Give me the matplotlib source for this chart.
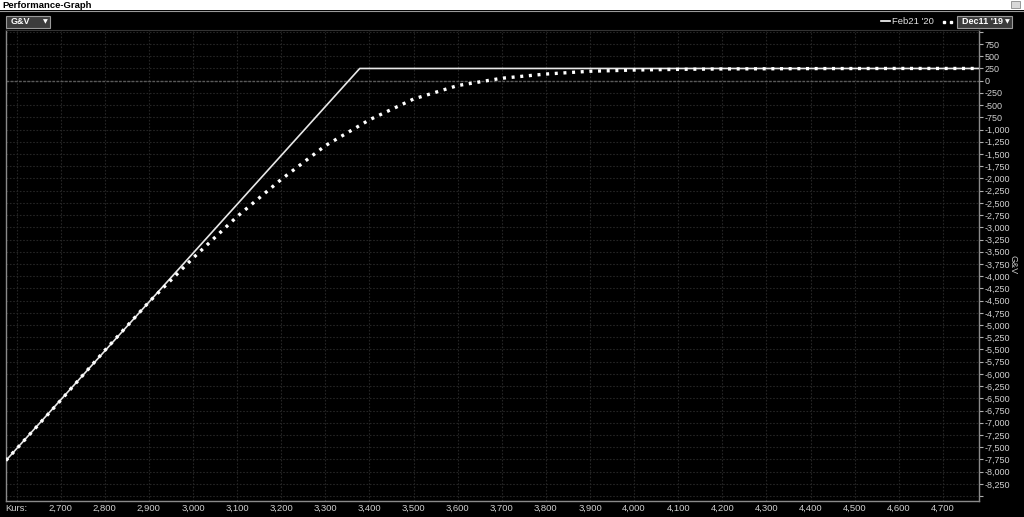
#! /usr/bin/env python3

'''
Performance graph: P&L of the position at expiry (Feb21 '20) and today (Dec11 '19).
'''

import matplotlib
matplotlib.use('Agg')
import matplotlib.pyplot as plt
from matplotlib.patches import Rectangle
from matplotlib.lines import Line2D

plt.rcParams['font.family'] = ['Liberation Sans', 'DejaVu Sans']

# expiry profile (Feb21 '20)
expiry_kurs = [2576, 3378, 4782]
expiry_gv = [-7770, 250, 250]

# current profile (Dec11 '19)
today_kurs = [2576, 2700, 2800, 2900, 3000, 3100, 3200, 3300, 3400, 3500,
              3600, 3700, 3800, 3900, 4000, 4100, 4200, 4400, 4600, 4782]
today_gv = [-7770, -6540, -5520, -4530, -3630, -2780, -2020, -1330, -800, -375,
            -100, 50, 136, 193, 218, 232, 240, 247, 250, 250]

x_ticks = list(range(2600, 4800, 100))
x_labels = ['Kurs:'] + [f'{v:,}' for v in x_ticks[1:]]
y_ticks = list(range(-8500, 1001, 250))
y_labels = [f'{v:,}' if -8250 <= v <= 750 else '' for v in y_ticks]

W, H = 1024, 517
fig = plt.figure(figsize=(W / 100, H / 100), dpi=100, facecolor='black')

ax = fig.add_axes([6 / W, 16 / H, 973 / W, 471 / H])
ax.set_facecolor('black')

ax.plot(expiry_kurs, expiry_gv, color='#e8e8e8', lw=1.2, zorder=3)
ax.plot(today_kurs, today_gv, color='white', lw=2.4,
        linestyle=(0, (0.9, 1.7)), dash_capstyle='butt', zorder=4)
ax.axhline(0, color='#5a5a5a', lw=1.0, linestyle=(0, (2, 1)), zorder=2)

ax.set_xlim(2576, 4782)
ax.set_ylim(-8600, 1037)
ax.set_xticks(x_ticks)
ax.set_xticklabels(x_labels)
ax.set_yticks(y_ticks)
ax.set_yticklabels(y_labels)
ax.yaxis.tick_right()
ax.tick_params(axis='y', colors='#b0b0b0', labelcolor='#d0d0d0',
               labelsize=6.5, length=3, width=0.8, pad=1)
ax.tick_params(axis='x', colors='#b0b0b0', labelcolor='#d0d0d0',
               labelsize=6.8, length=0, pad=2)
for lab in ax.get_yticklabels():
    lab.set_horizontalalignment('left')

ax.grid(True, color='#252525', lw=0.8, linestyle=(0, (1.5, 1.5)), zorder=1)
ax.set_axisbelow(True)

for side in ('left', 'bottom', 'right'):
    ax.spines[side].set_color('#8a8a8a')
    ax.spines[side].set_linewidth(1.0)
ax.spines['top'].set_color('#333333')

fig.text(1013 / W, 1 - 265 / H, 'G&V', rotation=-90, color='#c8c8c8',
         fontsize=6.5, va='center', ha='center')

# title bar
fig.patches.append(Rectangle((0, 1 - 10 / H), 1, 10 / H,
                             transform=fig.transFigure,
                             facecolor='white', edgecolor='none'))
fig.add_artist(Line2D([0, 1], [1 - 10.5 / H] * 2, color='#9a9a9a', lw=0.8))
fig.text(2 / W, 1 - 5 / H, 'Performance-Graph', color='black', fontsize=6.8,
         fontweight='bold', va='center', ha='left')
fig.patches.append(Rectangle((1011 / W, 1 - 8 / H), 9 / W, 7 / H,
                             transform=fig.transFigure,
                             facecolor='#d8d8d8', edgecolor='#8a8a8a', lw=0.6))


def dropdown(x0, x1, text):
    fig.patches.append(Rectangle((x0 / W, 1 - 28 / H), (x1 - x0) / W, 12 / H,
                                 transform=fig.transFigure,
                                 facecolor='#3c3c3c', edgecolor='#9a9a9a',
                                 lw=0.8))
    fig.text((x0 + 5) / W, 1 - 22 / H, text, color='white', fontsize=6.5,
             fontweight='bold', va='center', ha='left')
    fig.text((x1 - 5) / W, 1 - 22 / H, '\u25bc', color='white', fontsize=4.5,
             va='center', ha='center', family='DejaVu Sans')


dropdown(6, 50, 'G&V')
dropdown(957, 1012, "Dec11 '19")

# legend
fig.add_artist(Line2D([881 / W, 890 / W], [1 - 21 / H] * 2, color='white',
                      lw=1.2))
fig.text(892 / W, 1 - 21 / H, "Feb21 '20", color='#e0e0e0', fontsize=6.8,
         va='center', ha='left')
fig.add_artist(Line2D([944 / W, 951 / W], [1 - 22 / H] * 2, color='white',
                      lw=0, marker='s', markersize=1.8))

fig.savefig('out.png', dpi=100, facecolor='black')
